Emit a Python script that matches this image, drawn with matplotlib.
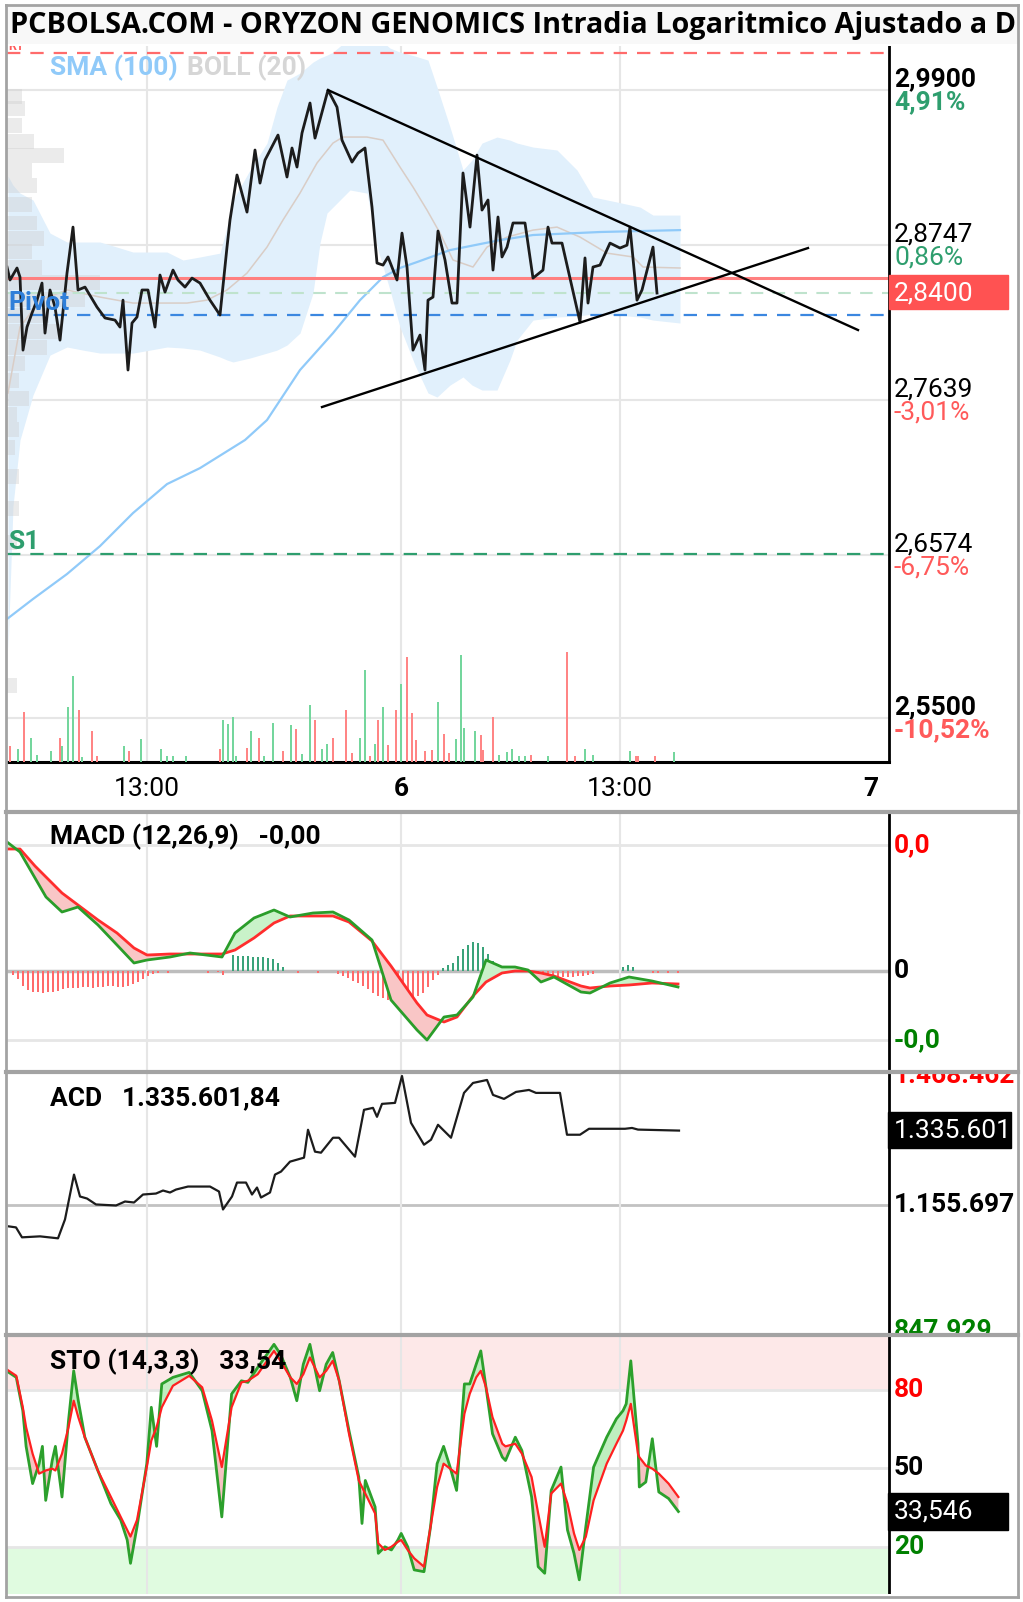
import numpy as np
import matplotlib
matplotlib.use('Agg')
import matplotlib.pyplot as plt
from matplotlib.patches import Rectangle
from matplotlib.lines import Line2D

plt.rcParams['font.family'] = ['Roboto', 'DejaVu Sans']

# ---------------- datos ----------------
titulo = 'PCBOLSA.COM - ORYZON GENOMICS Intradia Logaritmico Ajustado a D'

# eje de tiempo (posicion de barra)
x_ticks = [147, 401, 620, 871]
x_tick_lab = ['13:00', '6', '13:00', '7']
x_tick_bold = [False, True, False, True]
x_rejilla = [147, 401, 620]

# precio
precio_x = [7, 10, 17, 20, 23, 27, 32, 37, 42, 45, 50, 55, 60, 67, 73, 78, 85, 97, 105, 115,
            120, 123, 128, 132, 137, 142, 148, 155, 160, 165, 173, 178, 185, 192, 200, 210, 220, 227, 230, 237,
            247, 255, 260, 265, 278, 287, 292, 297, 302, 310, 315, 328, 337, 342, 352, 358, 365, 372, 377, 383,
            388, 397, 402, 407, 413, 420, 425, 428, 433, 438, 445, 452, 457, 463, 470, 477, 482, 488, 493, 498,
            502, 507, 513, 525, 533, 543, 548, 552, 562, 580, 585, 588, 593, 600, 610, 620, 627, 630, 637, 642,
            653, 657]
precio = [2.8588, 2.8494, 2.8581, 2.8515, 2.7992, 2.8156, 2.8256, 2.8349, 2.8472, 2.8113,
          2.8422, 2.8299, 2.8063, 2.8544, 2.8879, 2.8422, 2.8443, 2.8299, 2.8221, 2.8206,
          2.8156, 2.8349, 2.7851, 2.8185, 2.8228, 2.8422, 2.8422, 2.8156, 2.8530, 2.8407,
          2.8566, 2.8494, 2.8443, 2.8508, 2.8472, 2.8349, 2.8242, 2.8733, 2.8931, 2.9263,
          2.8989, 2.9449, 2.9203, 2.9374, 2.9561, 2.9248, 2.9464, 2.9322, 2.9576, 2.9802,
          2.9538, 2.9900, 2.9771, 2.9523, 2.9359, 2.9426, 2.9464, 2.9026, 2.8617, 2.8602,
          2.8661, 2.8494, 2.8835, 2.8588, 2.7992, 2.8099, 2.7851, 2.8349, 2.8371, 2.8850,
          2.8639, 2.8328, 2.8328, 2.9278, 2.8879, 2.9411, 2.9004, 2.9078, 2.8566, 2.8953,
          2.8661, 2.8733, 2.8909, 2.8909, 2.8508, 2.8566, 2.8879, 2.8762, 2.8762, 2.8192,
          2.8654, 2.8328, 2.8588, 2.8602, 2.8762, 2.8726, 2.8747, 2.8879, 2.8349, 2.8422,
          2.8733, 2.8400]

# bandas de Bollinger (20)
bb_x = [8, 13, 20, 33, 50, 67, 83, 100, 117, 133, 150, 167, 183, 200, 220, 227, 233, 250, 267, 277,
        287, 300, 313, 320, 327, 333, 350, 367, 378, 390, 400, 415, 428, 437, 450, 463, 472, 482, 497, 510,
        517, 533, 557, 577, 593, 617, 640, 653, 680]
bb_sup = [2.9255, 2.9188, 2.9129, 2.9078, 2.8835, 2.8770, 2.8770, 2.8770, 2.8733, 2.8697,
          2.8697, 2.8697, 2.8639, 2.8661, 2.8689, 2.8879, 2.9078, 2.9300, 2.9501, 2.9771,
          2.9976, 3.0029, 3.0113, 3.0144, 3.0166, 3.0189, 3.0300, 3.0300, 3.0300, 3.0220,
          3.0189, 3.0159, 3.0128, 2.9923, 2.9621, 2.9300, 2.9374, 2.9501, 2.9546, 2.9523,
          2.9501, 2.9471, 2.9449, 2.9300, 2.9100, 2.9063, 2.9026, 2.8967, 2.8967]
bb_inf = [2.5942, 2.6907, 2.7361, 2.7675, 2.7957, 2.8014, 2.7992, 2.7971, 2.7971, 2.7971,
          2.7992, 2.8014, 2.8007, 2.7992, 2.7943, 2.7922, 2.7908, 2.7936, 2.7971, 2.7992,
          2.8028, 2.8113, 2.8400, 2.8762, 2.8982, 2.9026, 2.9152, 2.9129, 2.8711, 2.8422,
          2.8156, 2.7886, 2.7689, 2.7661, 2.7745, 2.7802, 2.7745, 2.7710, 2.7710, 2.7922,
          2.8063, 2.8206, 2.8228, 2.8235, 2.8249, 2.8242, 2.8228, 2.8206, 2.8185]
bb_med_x = [8, 20, 40, 67, 100, 133, 167, 187, 207, 227, 247, 267, 283, 300, 317, 333, 343, 367, 383, 400,
            413, 427, 440, 453, 473, 487, 507, 533, 557, 580, 607, 633, 643, 680]
bb_med = [2.7689, 2.8156, 2.8349, 2.8422, 2.8371, 2.8328, 2.8328, 2.8328, 2.8349, 2.8422,
          2.8544, 2.8733, 2.8931, 2.9129, 2.9352, 2.9501, 2.9546, 2.9546, 2.9523, 2.9322,
          2.9174, 2.9004, 2.8835, 2.8639, 2.8588, 2.8733, 2.8806, 2.8857, 2.8879, 2.8806,
          2.8689, 2.8661, 2.8588, 2.8581]

# media simple 100
sma_x = [7, 33, 67, 100, 133, 167, 200, 245, 267, 300, 333, 360, 383, 400, 417, 450, 500, 533, 600, 680]
sma = [2.6147, 2.6280, 2.6447, 2.6635, 2.6859, 2.7057, 2.7167, 2.7361, 2.7500, 2.7851,
       2.8113, 2.8349, 2.8515, 2.8581, 2.8624, 2.8711, 2.8784, 2.8821, 2.8843, 2.8857]

# directrices del triangulo
tend_sup_x, tend_sup_p = [328, 858], [2.9900, 2.8135]
tend_inf_x, tend_inf_p = [322, 808], [2.7591, 2.8726]

# niveles
r1 = 3.0182
linea_roja = 2.8508
cierre_ant = 2.8400
pivot = 2.8242
s1 = 2.6580
niveles = [2.9900, 2.8747, 2.7639, 2.6574, 2.5500]
niveles_txt = ['2,9900', '2,8747', '2,7639', '2,6574', '2,5500']
pct_txt = ['4,91%', '0,86%', '-3,01%', '-6,75%', '-10,52%']
ultimo = 2.8400
caja_precio = (2.8286, 2.8528)

# perfil de volumen (precio, volumen relativo)
perfil_p = [2.9855, 2.9764, 2.9636, 2.9516, 2.9411, 2.9300, 2.9188, 2.9048, 2.8909, 2.8799,
            2.8704, 2.8588, 2.8479, 2.8357, 2.8242, 2.8128, 2.8014, 2.7900, 2.7774, 2.7654,
            2.7542, 2.7431, 2.7306, 2.7106, 2.6893, 2.6662, 2.5713]
perfil_v = [15, 18, 15, 27, 57, 25, 30, 25, 30, 37, 25, 35, 93, 78, 42, 55, 40, 18, 12, 22,
            10, 12, 8, 12, 12, 10, 10]

# volumen (miles)
vol_rojo_x = [10, 24, 60, 79, 92, 97, 129, 220, 247, 259, 283, 296, 315, 333, 346, 352, 370, 378, 388, 396,
              407, 412, 416, 425, 432, 444, 449, 481, 483, 493, 531, 567, 575, 636, 638, 655]
vol_rojo = [15.7, 49.7, 24, 52.3, 31.3, 5.7, 10.7, 13, 14, 24, 10.7, 33.3, 41.7, 24, 52.3, 9, 5.7, 41.7, 17.3, 52.3,
            104.7, 49, 22.3, 10.7, 12.3, 28.3, 9, 27.3, 12.3, 44.7, 7.3, 109.7, 5.7, 5.7, 5.7, 5.7]
vol_verde_x = [18, 31, 37, 51, 62, 68, 73, 82, 124, 141, 161, 167, 173, 186, 223, 228, 233, 236, 251, 264,
               273, 291, 302, 310, 322, 327, 360, 365, 375, 383, 401, 438, 456, 461, 464, 475, 499, 507, 512, 519,
               525, 548, 585, 593, 630, 674]
vol_verde = [13, 24, 7.3, 10.7, 15.7, 55, 86.3, 5, 15.7, 23.3, 13, 5.7, 5.7, 5.7, 41.7, 38.3, 44.7, 5.7, 31.3, 5.7,
             39, 36.7, 8, 57.3, 13, 18, 24, 91.7, 18, 55, 78.3, 60, 23.3, 107.3, 34, 31.3, 7.3, 10, 13.3, 5.7,
             5.7, 5.7, 13.3, 6.7, 10.7, 10]

# MACD (12,26,9) en diezmilesimas
macd_x = [7, 20, 35, 46, 62, 78, 98, 117, 134, 147, 170, 190, 222, 235, 254, 274, 290, 313, 333, 349,
          372, 391, 417, 427, 444, 457, 473, 486, 502, 515, 528, 541, 554, 581, 590, 610, 629, 652, 678]
macd = [129, 119, 93, 74, 59, 64, 46, 26, 8, 11, 14, 18, 14, 38, 53, 61, 54, 58, 59, 51,
        31, -29, -59, -69, -46, -44, -26, 11, 4, 4, 1, -11, -6, -21, -22, -12, -6, -10, -16]
senal = [122, 122, 105, 94, 78, 66, 51, 38, 23, 16, 17, 17, 17, 21, 33, 48, 55, 55, 55, 49,
         30, 5, -32, -44, -51, -46, -25, -11, -2, 0, 0, -2, -5, -15, -17, -15, -14, -12, -13]
hist = [0, -4, -8, -15, -19, -21, -21, -22, -21, -21,
        -20, -18, -17, -17, -17, -16, -16, -17, -16, -16,
        -15, -15, -16, -16, -15, -13, -11, -8, -5, -3,
        -2, 0, -2, 0, 0, 0, 0, 0, 0, 0,
        -2, 0, -1, -4, 0, 16, 15, 15, 15, 14,
        14, 14, 13, 12, 8, 4, 0, 0, -2, 0,
        0, 0, -2, 0, 0, 0, -3, -5, -7, -10,
        -12, -15, -18, -22, -25, -27, -29, -28, -27, -26,
        -27, -27, -25, -22, -16, -9, -4, 3, 6, 8,
        15, 22, 26, 29, 28, 24, 17, 10, 5, 2,
        0, 0, 0, 0, 0, 0, -2, -3, -4, -5,
        -6, -6, -6, -6, -5, -5, -4, -3, 0, 0,
        0, 0, 0, 4, 6, 4, 0, 0, 0, -2,
        -2, 0, -2, 0, -2]
hist_x0, hist_paso = 8, 5
macd_niveles = [126, 0, -69]
macd_txt = ['0,0', '0', '-0,0']

# ACD (miles)
acd_x = [9, 16, 22, 40, 58, 65, 74, 80, 87, 96, 116, 125, 134, 143, 156, 163, 170, 176, 188, 210,
         219, 223, 232, 237, 246, 252, 257, 261, 270, 275, 281, 290, 304, 308, 315, 321, 333, 339, 355, 364,
         373, 377, 382, 395, 402, 411, 424, 431, 438, 451, 464, 473, 487, 493, 504, 516, 529, 536, 560, 567,
         580, 589, 625, 632, 638, 679]
acd = [1102.4, 1100.0, 1075.8, 1078.2, 1073.4, 1119.4, 1228.5, 1175.2, 1170.3, 1155.8,
       1153.3, 1163.0, 1160.6, 1180.0, 1182.4, 1189.7, 1184.9, 1192.1, 1199.4, 1199.4,
       1187.3, 1143.6, 1175.2, 1209.1, 1209.1, 1180.0, 1197.0, 1172.7, 1184.9, 1228.5,
       1235.8, 1260.0, 1269.7, 1337.6, 1284.3, 1281.8, 1318.2, 1318.2, 1272.1, 1386.1,
       1390.9, 1369.1, 1400.6, 1403.0, 1468.5, 1354.5, 1301.2, 1313.3, 1349.7, 1318.2,
       1427.3, 1451.5, 1458.8, 1422.4, 1412.7, 1429.7, 1434.5, 1427.3, 1427.3, 1325.5,
       1325.5, 1340.0, 1340.0, 1342.0, 1338.0, 1335.6]
acd_max, acd_med, acd_min, acd_ult = 1468462, 1155697, 847929, 1335601
caja_acd = (1294000, 1381200)

# estocastico (14,3,3)
sto_x = [6.5, 16.3, 22.8, 26.1, 32.6, 39.1, 42.4, 45.7, 52.2, 55.4,
         62.0, 68.5, 73.7, 78.3, 84.8, 97.8, 110.9, 120.7, 127.2, 130.5,
         137.0, 146.8, 151.3, 156.6, 161.8, 172.9, 189.2, 202.2, 212.0, 221.8,
         231.6, 241.4, 247.9, 257.7, 274.0, 280.5, 290.3, 296.8, 303.3, 309.9,
         319.6, 326.2, 332.7, 339.2, 349.0, 358.8, 362.0, 365.3, 375.1, 378.3,
         384.9, 391.4, 397.9, 401.2, 407.7, 414.2, 424.0, 430.5, 437.1, 443.6,
         450.1, 456.6, 464.4, 469.7, 476.2, 480.8, 486.0, 492.5, 502.3, 505.5,
         515.3, 521.9, 531.6, 538.2, 544.7, 551.2, 561.0, 567.5, 574.0, 579.3,
         585.8, 593.6, 606.7, 616.4, 623.0, 626.2, 630.8, 638.0, 639.3, 645.8,
         652.3, 658.8, 668.6, 678.4]
sto_k = [87.2, 84.7, 72.0, 58.4, 44.2, 51.8, 58.4, 37.8, 53.0, 58.4,
         39.1, 68.2, 87.2, 75.8, 61.9, 49.2, 36.6, 30.3, 22.7, 13.8,
         27.7, 51.8, 73.3, 58.4, 82.2, 84.7, 86.6, 79.6, 64.4, 31.5,
         78.4, 83.4, 82.8, 88.5, 97.3, 93.5, 84.7, 75.8, 89.7, 97.3,
         79.6, 89.7, 94.2, 83.4, 64.4, 46.7, 29.0, 45.4, 35.3, 17.6,
         20.1, 18.9, 22.7, 25.2, 20.1, 11.3, 10.6, 27.7, 51.8, 58.4,
         50.5, 41.6, 82.2, 82.2, 89.7, 94.8, 80.9, 63.2, 54.3, 53.0,
         61.9, 56.8, 39.1, 12.5, 10.0, 41.6, 50.5, 26.5, 17.6, 7.5,
         27.7, 50.5, 61.9, 68.9, 72.0, 74.6, 91.0, 59.4, 42.9, 44.8,
         61.3, 41.0, 38.5, 33.55]
sto_d = [87.8, 85.3, 73.3, 65.7, 55.6, 48.0, 48.6, 49.2, 49.9, 49.2,
         55.6, 65.7, 75.8, 69.5, 61.9, 49.2, 39.1, 31.5, 26.5, 24.0,
         30.3, 50.5, 60.6, 65.7, 73.3, 81.5, 85.3, 80.9, 68.2, 50.5,
         73.3, 82.8, 83.4, 85.9, 94.8, 91.0, 84.7, 82.2, 85.9, 92.3,
         84.7, 87.2, 91.0, 83.4, 63.2, 45.4, 42.9, 40.4, 32.8, 21.4,
         18.9, 20.1, 22.0, 22.7, 18.9, 15.7, 12.5, 27.7, 42.9, 51.8,
         49.9, 48.0, 70.8, 78.4, 84.7, 87.2, 80.9, 69.5, 59.4, 58.4,
         59.4, 55.6, 46.7, 32.8, 20.1, 40.4, 44.2, 36.6, 25.2, 18.9,
         23.9, 37.8, 51.8, 59.4, 64.4, 68.2, 74.6, 55.6, 54.3, 51.1,
         49.9, 48.0, 44.2, 39.1]
sto_niveles = [80, 50, 20]
caja_sto = (26.45, 40.5)

# ---------------- figura ----------------
W, H = 1023, 1602
fig = plt.figure(figsize=(W / 100, H / 100), dpi=100)
fig.patch.set_facecolor('white')

X0, X_EJE, X1, X_LAB = 7, 889, 1018, 894
FS = 19
GRIS = '#e6e6e6'
VERDE_T, ROJO_T = '#2e9e6e', '#ff5a5a'


def panel(arriba, abajo):
    a = fig.add_axes([X0 / W, 1 - abajo / H, (X1 - X0) / W, (abajo - arriba) / H])
    a.set_xlim(X0, X1)
    a.axis('off')
    return a


def rejilla_v(a):
    for xv in x_rejilla:
        a.axvline(xv, color=GRIS, lw=1.5, zorder=0)
    a.axvline(X_EJE, color='black', lw=2, zorder=30)


def etiqueta(a, y, txt, color='black', peso='normal', va='center', dy=0, clip=False):
    a.annotate(txt, xy=(X_LAB, y), xytext=(0, dy), textcoords='offset points',
               color=color, fontsize=FS, fontweight=peso, va=va, ha='left',
               annotation_clip=False, clip_on=clip, zorder=40)


# banda del titulo
fig.add_artist(Rectangle((6 / W, 1 - 44 / H), 1012 / W, 39 / H, transform=fig.transFigure,
                         color='#f8f8f8', lw=0, zorder=0))

# ---- panel principal ----
ax = panel(46, 762)
ax.set_yscale('log')
ax.set_ylim(2.5216, 3.0236)

ax.hlines(niveles, X0, X_EJE, colors=GRIS, lw=1.5, zorder=0)
rejilla_v(ax)

ax.fill_between(bb_x, bb_inf, bb_sup, color='#e1f0fc', lw=0, zorder=1)
ax.barh(perfil_p, perfil_v, height=np.array(perfil_p) * 0.0038, left=X0,
        color='#cfcfcf', alpha=0.4, zorder=2)
ax.plot(bb_med_x, bb_med, color='#d9cdc6', lw=1.1, zorder=3)
ax.plot(sma_x, sma, color='#90caf9', lw=1.6, zorder=3)

guion = (0, (6, 4.5))
ax.hlines(r1, X0, X_EJE, colors='#ff6b6b', lw=1.6, linestyles=[guion], zorder=4)
ax.hlines(linea_roja, X0, X_EJE, colors='#ff8080', lw=2.2, zorder=4)
ax.hlines(cierre_ant, X0, X_EJE, colors='#bfe3cd', lw=1.5, linestyles=[guion], zorder=4)
ax.hlines(pivot, X0, X_EJE, colors='#3b87e0', lw=1.6, linestyles=[guion], zorder=4)
ax.hlines(s1, X0, X_EJE, colors='#2e9e6e', lw=1.6, linestyles=[guion], zorder=4)

ax.plot(precio_x, precio, color='#1c1c1c', lw=2.0, zorder=6)
ax.plot(tend_sup_x, tend_sup_p, color='black', lw=1.7, zorder=7)
ax.plot(tend_inf_x, tend_inf_p, color='black', lw=1.7, zorder=7)

# eje inferior
ax.plot([X0, X_EJE], [0, 0], transform=ax.get_xaxis_transform(), color='black', lw=2.2,
        clip_on=False, zorder=30)
for xv, lab, bold in zip(x_ticks, x_tick_lab, x_tick_bold):
    ax.annotate(lab, xy=(xv, 0), xycoords=ax.get_xaxis_transform(), xytext=(0, -19.5),
                textcoords='offset points', ha='center', va='center', fontsize=FS,
                fontweight='bold' if bold else 'normal', annotation_clip=False)

# leyenda
t_sma = ax.text(50, 0.969, 'SMA (100)', transform=ax.get_xaxis_transform(), color='#90caf9',
                fontsize=FS, fontweight='bold', va='center', zorder=40)
ax.annotate('BOLL (20)', xy=(1, 0.5), xycoords=t_sma, xytext=(7, 0), textcoords='offset points',
            color='#d6d6d6', fontsize=FS, fontweight='bold', va='center', zorder=40)

ax.text(8, pivot, 'Pivot', color='#2f7fd9', fontsize=FS, fontweight='bold', va='bottom', zorder=40)
ax.text(8, s1, 'S1', color='#2e9e6e', fontsize=FS, fontweight='bold', va='bottom', zorder=40)
ax.text(8, r1, 'R1', color='#ff5a5a', fontsize=9, fontweight='bold', va='bottom', zorder=40,
        clip_on=True)

# etiquetas de precio
for i, (p, txt, pc) in enumerate(zip(niveles, niveles_txt, pct_txt)):
    peso = 'bold' if i in (0, len(niveles) - 1) else 'normal'
    col = VERDE_T if not pc.startswith('-') else ROJO_T
    etiqueta(ax, p, txt, 'black', peso, va='bottom', dy=-1)
    etiqueta(ax, p, pc, col, peso, va='top', dy=0)

ax.add_patch(Rectangle((X_EJE, caja_precio[0]), 119, caja_precio[1] - caja_precio[0],
                       color='#ff5252', zorder=35, clip_on=False))
etiqueta(ax, ultimo, '2,8400', 'white')

# volumen
axv = ax.twinx()
axv.axis('off')
axv.set_xlim(X0, X1)
axv.set_ylim(0, 716)
axv.bar(vol_verde_x, vol_verde, width=1.6, color='#74d69d', lw=0)
axv.bar(vol_rojo_x, vol_rojo, width=1.6, color='#ff8585', lw=0)

# ---- MACD ----
ax2 = panel(814, 1070)
ax2.set_ylim(-99, 157)
ax2.hlines([macd_niveles[0], macd_niveles[2]], X0, X_EJE, colors=GRIS, lw=2, zorder=0)
ax2.hlines(0, X0, X_EJE, colors='#bdbdbd', lw=2.5, zorder=0)
rejilla_v(ax2)

hx = hist_x0 + hist_paso * np.arange(len(hist))
hv = np.array(hist)
ax2.bar(hx, hv, width=1.6, color=np.where(hv >= 0, '#3aa37a', '#ff6b6b'), lw=0, zorder=2)

m, s = np.array(macd), np.array(senal)
ax2.fill_between(macd_x, m, s, where=m >= s, interpolate=True, color='#c9f2c9', lw=0, zorder=3)
ax2.fill_between(macd_x, m, s, where=m < s, interpolate=True, color='#f9c6c6', lw=0, zorder=3)
ax2.plot(macd_x, senal, color='#ff2d2d', lw=2, zorder=4)
ax2.plot(macd_x, macd, color='#2a9d2a', lw=2, zorder=5)

ax2.text(50, 0.91, 'MACD (12,26,9)   -0,00', transform=ax2.get_xaxis_transform(),
         fontsize=FS, fontweight='bold', va='center', zorder=40)
for v, txt, col in zip(macd_niveles, macd_txt, ['#ff0000', 'black', '#008000']):
    etiqueta(ax2, v, txt, col, 'bold')

# ---- ACD ----
ax3 = panel(1074, 1333)
ax3.set_ylim(843000, 1473300)
ax3.hlines(acd_med, X0, X_EJE, colors='#c2c2c2', lw=2, zorder=0)
rejilla_v(ax3)
ax3.plot(acd_x, np.array(acd) * 1000, color='#1c1c1c', lw=1.6, zorder=5)
ax3.text(50, 0.907, 'ACD   1.335.601,84', transform=ax3.get_xaxis_transform(),
         fontsize=FS, fontweight='bold', va='center', zorder=40)
ax3.text(X_LAB, acd_max, '1.468.462', color='#ff0000', fontsize=FS, fontweight='bold',
         va='center', clip_on=True, zorder=40)
ax3.text(X_LAB, acd_med, '1.155.697', color='black', fontsize=FS, fontweight='bold',
         va='center', clip_on=True, zorder=40)
ax3.text(X_LAB, acd_min, '847.929', color='#008000', fontsize=FS, fontweight='bold',
         va='center', clip_on=True, zorder=40)
ax3.add_patch(Rectangle((X_EJE - 1, caja_acd[0]), 123, caja_acd[1] - caja_acd[0],
                        color='black', zorder=35))
ax3.text(X_LAB, acd_ult, '1.335.601', color='white', fontsize=FS, va='center',
         clip_on=True, zorder=40)

# ---- Estocastico ----
ax4 = panel(1337, 1594)
ax4.set_ylim(2.1, 100.1)
ax4.fill_between([X0, X_EJE], 80, 100.1, color='#fde8e8', lw=0, zorder=0)
ax4.fill_between([X0, X_EJE], 2.1, 20, color='#e0fbe0', lw=0, zorder=0)
ax4.hlines(sto_niveles, X0, X_EJE, colors=GRIS, lw=2, zorder=1)
rejilla_v(ax4)
k, d = np.array(sto_k), np.array(sto_d)
ax4.fill_between(sto_x, k, d, where=k >= d, interpolate=True, color='#bfeebf', lw=0, zorder=2)
ax4.fill_between(sto_x, k, d, where=k < d, interpolate=True, color='#f6c2c2', lw=0, zorder=2)
ax4.plot(sto_x, k, color='#2ca02c', lw=2.0, zorder=3)
ax4.plot(sto_x, d, color='#ff2020', lw=1.6, zorder=4)
ax4.text(50, 0.903, 'STO (14,3,3)   33,54', transform=ax4.get_xaxis_transform(),
         fontsize=FS, fontweight='bold', va='center', zorder=40)
for v, col in zip(sto_niveles, ['#ff0000', 'black', '#008000']):
    etiqueta(ax4, v, str(v), col, 'bold')
ax4.add_patch(Rectangle((X_EJE - 1, caja_sto[0]), 120, caja_sto[1] - caja_sto[0],
                        color='black', zorder=35))
etiqueta(ax4, sto_k[-1], '33,546', 'white')

# ---- titulo, marco y separadores ----
fig.text(10 / W, 1 - 25 / H, titulo, fontsize=20.8, fontweight='bold', va='center', ha='left',
         family=['Open Sans', 'DejaVu Sans'])


def linea_fig(x0, y0, x1, y1, color='#a3a3a3', lw=2.0):
    fig.add_artist(Line2D([x0 / W, x1 / W], [1 - y0 / H, 1 - y1 / H], color=color, lw=lw))


for y in (812, 1072, 1335):
    linea_fig(6, y, 1018, y, lw=3.0)
linea_fig(6, 5, 1018, 5)
linea_fig(6, 1597, 1018, 1597)
linea_fig(6, 5, 6, 1597)
linea_fig(1018, 5, 1018, 1597)

fig.savefig('out.png', dpi=100, facecolor='white')
